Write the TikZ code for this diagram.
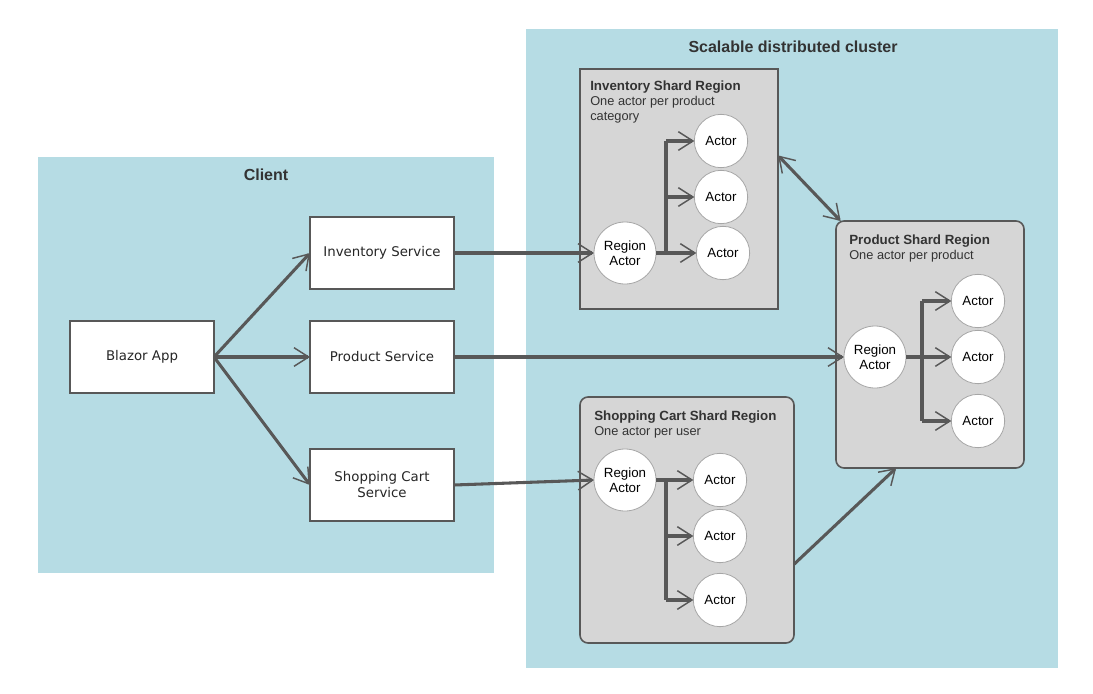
\documentclass[tikz,border=0pt]{standalone}
\usepackage{fontspec}
\setmainfont{Liberation Sans}
\newfontfamily\verd{DejaVu Sans}
\usetikzlibrary{arrows.meta,calc}
\definecolor{panel}{HTML}{B6DCE4}
\definecolor{regionfill}{HTML}{D6D6D6}
\definecolor{ln}{HTML}{585858}
\definecolor{txt}{HTML}{333333}
\begin{document}
\begin{tikzpicture}[x=0.75pt,y=-0.75pt,
  panelbox/.style={fill=panel,draw=none,inner sep=0pt,outer sep=0pt},
  paneltitle/.style={font=\bfseries\fontsize{12}{14}\selectfont,text=txt},
  svc/.style={draw=ln,line width=1.1pt,fill=white,minimum width=108pt,minimum height=54pt,inner sep=0pt,outer sep=0pt,align=center,font=\verd\fontsize{10}{12}\selectfont,text=black!85},
  regionbox/.style={fill=regionfill,draw=ln,line width=1.2pt,inner sep=0pt,outer sep=0pt},
  rtext/.style={anchor=north west,align=left,inner sep=0pt,text=txt,font=\fontsize{9.6}{11}\selectfont},
  actor/.style={circle,fill=white,draw=black!35,line width=0.6pt,minimum size=40pt,inner sep=0pt,outer sep=0pt,font=\fontsize{10}{11.5}\selectfont},
  regact/.style={actor,minimum size=46.5pt,align=center},
  arr/.style={draw=ln,line width=2.3pt,-{Straight Barb[length=11pt,width=14pt,line width=1.1pt]}},
  darr/.style={draw=ln,line width=2.3pt,{Straight Barb[length=11pt,width=14pt,line width=1.1pt]}-{Straight Barb[length=11pt,width=14pt,line width=1.1pt]}},
  plain/.style={draw=ln,line width=2.8pt}
]
\useasboundingbox[fill=white] (0,0) rectangle (1093,693);

% panels
\node[panelbox,minimum width=342pt,minimum height=312pt] (client) at (266,365) {};
\node[panelbox,minimum width=399pt,minimum height=479.25pt] (cluster) at (792,348.5) {};
\node[paneltitle] (clientT) at (266,175) {Client};
\node[paneltitle] (clusterT) at (793,47) {Scalable distributed cluster};

% services
\node[svc] (blazor) at (142,357) {Blazor App};
\node[svc] (invS) at (382,253) {Inventory Service};
\node[svc] (prodS) at (382,357) {Product Service};
\node[svc] (cartS) at (382,485) {Shopping Cart\\Service};

% regions
\node[regionbox,minimum width=148.5pt,minimum height=180pt] (invR) at (679,189) {};
\node[regionbox,rounded corners=6pt,minimum width=160.5pt,minimum height=184.5pt] (cartR) at (687,520) {};
\node[regionbox,rounded corners=6pt,minimum width=141pt,minimum height=185.25pt] (prodR) at (930,344.5) {};

\node[rtext] (invT) at (590,81) {\textbf{\fontsize{10}{11}\selectfont Inventory Shard Region}\\One actor per product\\category};
\node[rtext] (cartT) at (594,411) {\textbf{\fontsize{10}{11}\selectfont Shopping Cart Shard Region}\\One actor per user};
\node[rtext] (prodT) at (849,235) {\textbf{\fontsize{10}{11}\selectfont Product Shard Region}\\One actor per product};

% actors: inventory
\node[regact] (invRA) at (625,253) {Region\\Actor};
\node[actor] (invA1) at (721,141) {Actor};
\node[actor] (invA2) at (721,197) {Actor};
\node[actor] (invA3) at (723,253) {Actor};
\coordinate (invB) at (666,253);

% actors: cart
\node[regact] (cartRA) at (625,480) {Region\\Actor};
\node[actor] (cartA1) at (720,480) {Actor};
\node[actor] (cartA2) at (720,536) {Actor};
\node[actor] (cartA3) at (720,600) {Actor};
\coordinate (cartB) at (666,480);

% actors: product
\node[regact] (prodRA) at (875,357) {Region\\Actor};
\node[actor] (prodA1) at (978,301) {Actor};
\node[actor] (prodA2) at (978,357) {Actor};
\node[actor] (prodA3) at (978,421) {Actor};
\coordinate (prodB) at (922,357);

% client connectors
\draw[arr] (blazor.east) -- (invS.west);
\draw[arr] (blazor.east) -- (prodS.west);
\draw[arr] (blazor.east) -- (cartS.west);

% service to region
\draw[arr] (invS.east) -- (invRA.west);
\draw[arr] (prodS.east) -- (prodRA.west);
\draw[arr] (cartS.east) -- (cartRA.west);

% inventory internal
\draw[plain] (invRA.east) -- (invB);
\draw[plain] (invB) -- (invB |- invA1);
\draw[arr] (invB |- invA1) -- (invA1.west);
\draw[arr] (invB |- invA2) -- (invA2.west);
\draw[arr] (invB) -- (invA3.west);

% cart internal
\draw[plain] (cartRA.east) -- (cartB);
\draw[plain] (cartB) -- (cartB |- cartA3);
\draw[arr] (cartB) -- (cartA1.west);
\draw[arr] (cartB |- cartA2) -- (cartA2.west);
\draw[arr] (cartB |- cartA3) -- (cartA3.west);

% product internal
\draw[plain] (prodRA.east) -- (prodB);
\draw[plain] (prodB |- prodA1) -- (prodB |- prodA3);
\draw[arr] (prodB |- prodA1) -- (prodA1.west);
\draw[arr] (prodB) -- (prodA2.west);
\draw[arr] (prodB |- prodA3) -- (prodA3.west);

% region to region
\coordinate (invRp) at ($(invR.north east)!0.36!(invR.south east)$);
\coordinate (prodRp) at ([xshift=3.5pt]prodR.north west);
\draw[darr] (invRp) -- (prodRp);
\coordinate (cartRp) at ($(cartR.north east)!0.68!(cartR.south east)$);
\coordinate (prodRq) at ($(prodR.south west)!0.32!(prodR.south east)$);
\draw[arr] (cartRp) -- (prodRq);
\end{tikzpicture}
\end{document}
